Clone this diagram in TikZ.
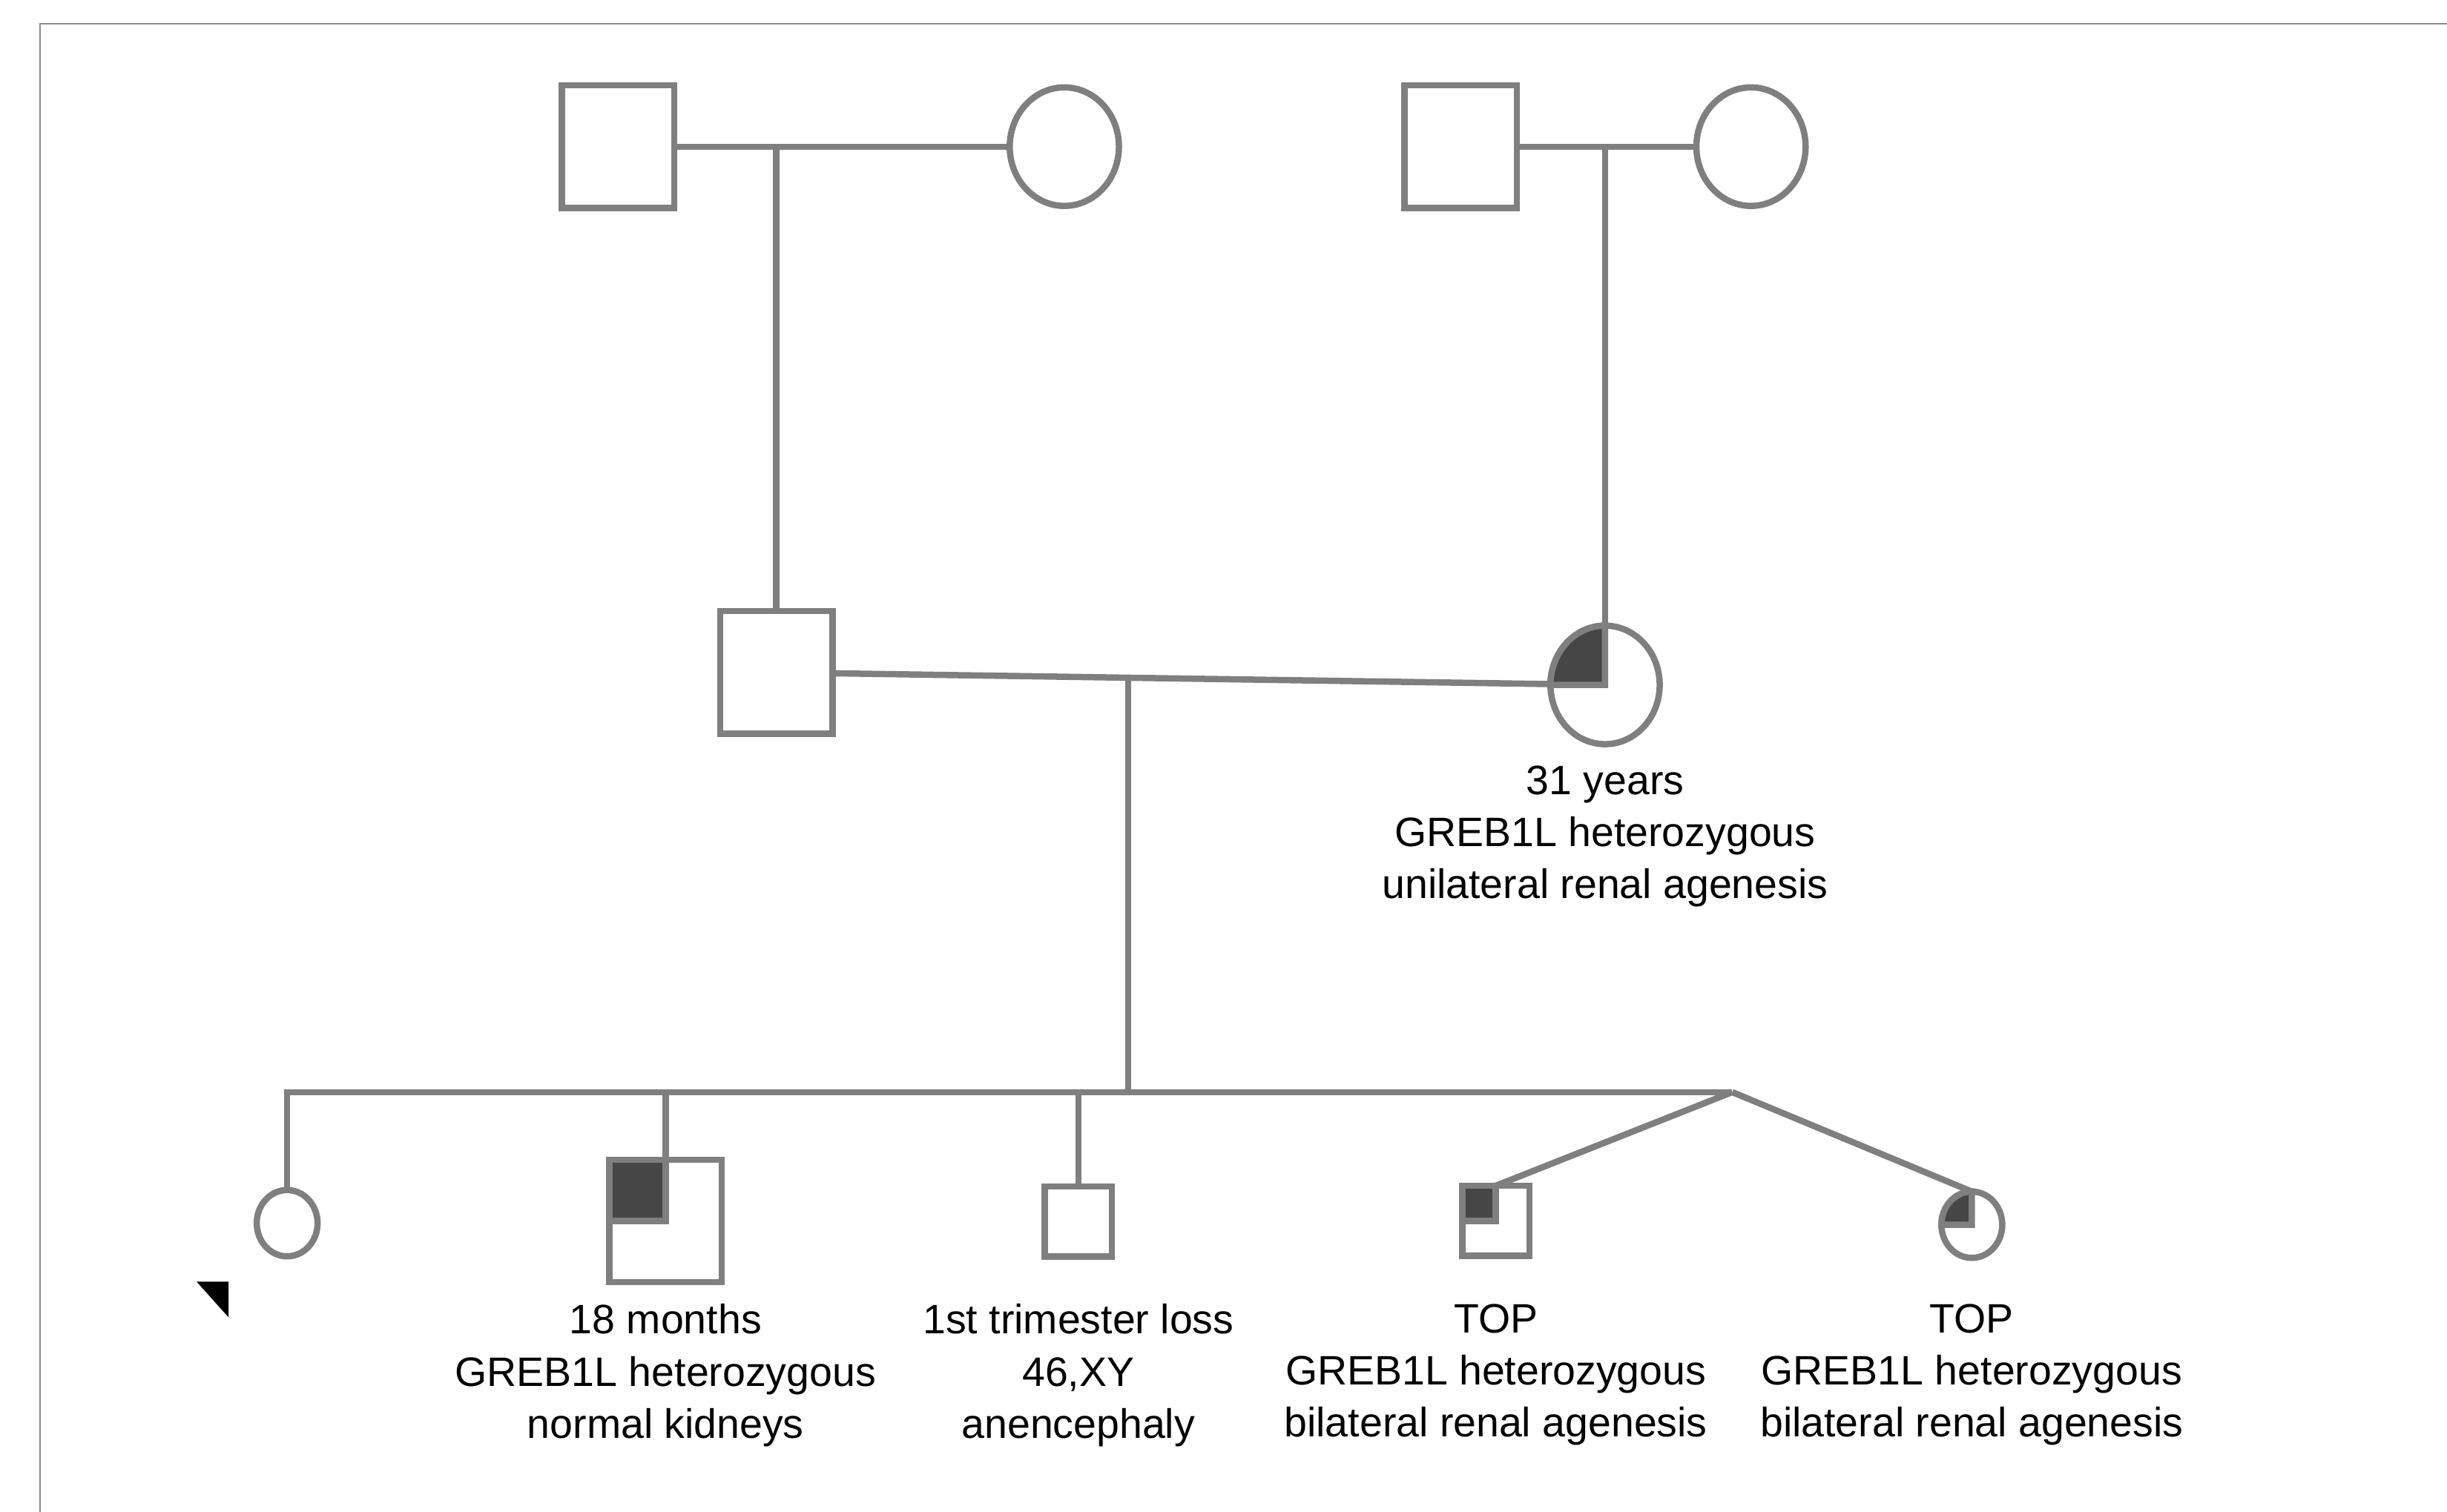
\documentclass[tikz,border=0pt]{standalone}
\usepackage{fontspec}
\setmainfont{Liberation Sans}
\usetikzlibrary{shapes.geometric}
\definecolor{pedgray}{HTML}{7F7F7F}
\definecolor{peddark}{HTML}{464646}
\definecolor{framegray}{HTML}{8C8C8C}
\tikzset{
  pedline/.style={draw=pedgray, line width=2.3pt},
  ped/.style={pedline, inner sep=0pt, outer sep=0pt},
  male/.style={ped, rectangle, minimum width=1.44cm, minimum height=1.57cm},
  female/.style={ped, ellipse, minimum width=1.40cm, minimum height=1.52cm},
  smallmale/.style={ped, rectangle, minimum width=0.86cm, minimum height=0.90cm},
  smallfemale/.style={ped, ellipse, minimum width=0.78cm, minimum height=0.85cm},
  info/.style={align=center, inner sep=0pt, anchor=north, font=\fontsize{15}{19}\selectfont}
}
\begin{document}
\begin{tikzpicture}[x=0.02cm, y=-0.02cm]
      \useasboundingbox (0,0) rectangle (1568,969);
      \draw[framegray, line width=0.5pt] (1568,15.2) -- (25.5,15.2) -- (25.5,969);
      \draw
        (396,94) node[male] (gfa1){}
        (682,94) node[female] (gmo1){}
        (936,94) node[male] (gfa2){}
        (1122,94) node[female] (gmo2){}
        (497.5,431) node[male] (father){}
        (1028.5,439) node[female] (mother){}
        (184,784) node[smallfemale] (sis){}
        (426.5,782.5) node[male] (brother){}
        (691,783) node[smallmale] (loss){}
        (958.5,782.5) node[smallmale] (twin1){}
        (1263.5,785) node[smallfemale] (twin2){};
      \coordinate (u1) at (497.5,94);
      \coordinate (u2) at (1028.5,94);
      \coordinate (u3) at (723,434.4);
      \coordinate (sibM) at (723,700);
      \coordinate (twin) at (1110,700);
      % affected quarters
      \draw[pedline, fill=peddark] (mother.center) -- (mother.west)
        arc[start angle=180, end angle=90, x radius=0.70cm, y radius=0.76cm] -- cycle;
      \draw[pedline, fill=peddark] (brother.north west) rectangle (brother.center);
      \draw[pedline, fill=peddark] (twin1.north west) rectangle (twin1.center);
      \draw[pedline, fill=peddark] (twin2.center) -- (twin2.west)
        arc[start angle=180, end angle=90, x radius=0.39cm, y radius=0.425cm] -- cycle;
      \begin{scope}[pedline]
        \draw (gfa1) to (gmo1);
        \draw (gfa2) to (gmo2);
        \draw (u1) to (father.north);
        \draw (u2) to (mother.north);
        \draw (father) to (mother);
        \draw (u3) to (sibM);
        \draw (sis.north) |- (twin);
        \draw (brother.north |- twin) to (brother.north);
        \draw (loss.north |- twin) to (loss.north);
        \draw (twin) to (twin1.north);
        \draw (twin) to (twin2.north);
      \end{scope}
      % proband
      \fill (126,821.5) -- (146.5,821.5) -- (146.5,844.4) -- cycle;
      \node[info] (lblmother) at (1028.5,490.5) {31 years\\GREB1L heterozygous\\unilateral renal agenesis};
      \node[info] (lblbrother) at (426.5,835.5) {18 months\\GREB1L heterozygous\\normal kidneys};
      \node[info] (lblloss) at (691,835.5) {1st trimester loss\\46,XY\\anencephaly};
      \node[info] (lbltwin1) at (958.5,835.5) {TOP\\GREB1L heterozygous\\bilateral renal agenesis};
      \node[info] (lbltwin2) at (1263.5,835.5) {TOP\\GREB1L heterozygous\\bilateral renal agenesis};
    \end{tikzpicture}
\end{document}
